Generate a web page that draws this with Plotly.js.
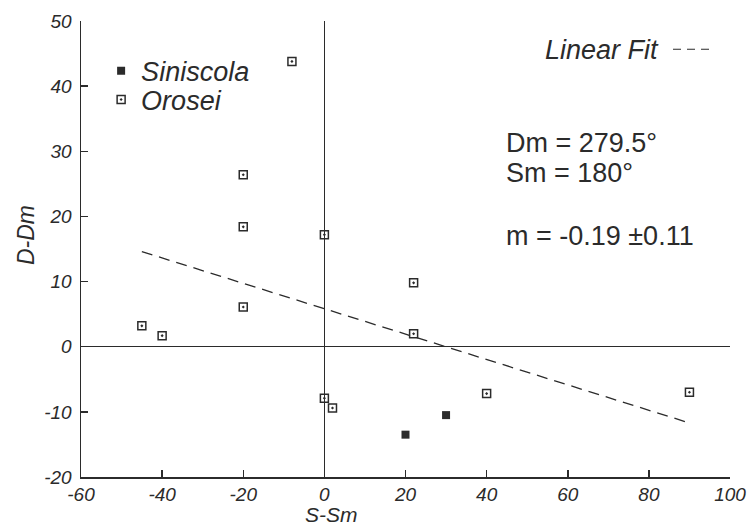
<!DOCTYPE html>
<html>
<head>
<meta charset="utf-8">
<script src="https://cdn.plot.ly/plotly-3.0.1.min.js"></script>
<style>
body{margin:0;padding:0;background:#fff;} #chart{width:752px;height:527px;}
</style>
</head>
<body>
<div id="chart"></div>
<script>
// Data
const siniscolaX = [20, 30];
const siniscolaY = [-13.5, -10.5];
const oroseiX = [-8, -20, -20, 0, -45, -40, -20, 0, 2, 22, 22, 40, 90];
const oroseiY = [43.8, 26.4, 18.4, 17.2, 3.2, 1.7, 6.1, -7.9, -9.4, 9.8, 2.0, -7.2, -7.0];
const fitX = [-45, 90];
const fitY = [14.6, -11.7];
const xTicks = [-60, -40, -20, 0, 20, 40, 60, 80, 100];
const yTicks = [-20, -10, 0, 10, 20, 30, 40, 50];

const ink = '#2b2b2b';
const fam = 'Liberation Sans, Arial, sans-serif';

const traces = [
  {x: fitX, y: fitY, mode: 'lines', line: {color: ink, width: 1.3, dash: '11px,7px'}, showlegend: false, hoverinfo: 'skip'},
  {x: siniscolaX, y: siniscolaY, mode: 'markers', name: 'Siniscola', legend: 'legend',
   marker: {symbol: 'square', size: 8, color: ink, line: {width: 0}}},
  {x: oroseiX, y: oroseiY, mode: 'markers', name: 'Orosei', legend: 'legend2',
   marker: {symbol: 'square-open-dot', size: 8, color: ink, line: {width: 1.5, color: ink}}}
];

const axisCommon = {
  showgrid: false, showline: true, linecolor: ink, linewidth: 1.5,
  zeroline: true, zerolinecolor: ink, zerolinewidth: 1.5,
  ticks: 'inside', ticklen: 7, tickwidth: 1.5, tickcolor: ink,
  tickfont: {family: fam, size: 19, color: ink, style: 'italic'},
  mirror: false
};

const legFont = {family: fam, size: 27, color: ink, style: 'italic'};
const layout = {
  width: 752, height: 527,
  margin: {l: 81, r: 22, t: 21, b: 50},
  paper_bgcolor: '#fff', plot_bgcolor: '#fff',
  showlegend: true,
  legend: {x: 0.031, y: 0.890, xanchor: 'left', yanchor: 'middle', bgcolor: 'rgba(0,0,0,0)', font: legFont},
  legend2: {x: 0.031, y: 0.827, xanchor: 'left', yanchor: 'middle', bgcolor: 'rgba(0,0,0,0)', font: legFont},
  xaxis: Object.assign({}, axisCommon, {range: [-60, 100], tickvals: xTicks,
     ticktext: xTicks.map(String)}),
  yaxis: Object.assign({}, axisCommon, {range: [-20, 50], tickvals: yTicks,
     ticktext: yTicks.map(String), ticklabelstandoff: 4}),
  annotations: [
    {xref: 'paper', yref: 'paper', x: 0.3867, y: -0.0833, xanchor: 'center', yanchor: 'middle', showarrow: false,
     text: '<i>S-Sm</i>', font: {family: fam, size: 21, color: ink}},
    {xref: 'paper', yref: 'paper', x: -0.0847, y: 0.5307, xanchor: 'center', yanchor: 'middle', showarrow: false,
     textangle: -90, text: '<i>D-Dm</i>', font: {family: fam, size: 23, color: ink}},
    {xref: 'paper', yref: 'paper', x: 0.7119, y: 0.9364, xanchor: 'left', yanchor: 'middle', showarrow: false,
     text: '<i>Linear Fit</i>', font: {family: fam, size: 27, color: ink}},
    {xref: 'paper', yref: 'paper', x: 0.6518, y: 0.7325, xanchor: 'left', yanchor: 'middle', showarrow: false,
     text: 'Dm = 279.5°', font: {family: fam, size: 27, color: ink}},
    {xref: 'paper', yref: 'paper', x: 0.6518, y: 0.6667, xanchor: 'left', yanchor: 'middle', showarrow: false,
     text: 'Sm = 180°', font: {family: fam, size: 27, color: ink}},
    {xref: 'paper', yref: 'paper', x: 0.6518, y: 0.5285, xanchor: 'left', yanchor: 'middle', showarrow: false,
     text: 'm = -0.19 ±0.11', font: {family: fam, size: 27, color: ink}}
  ],
  shapes: [
    {type: 'line', xref: 'paper', yref: 'paper', x0: 0.9122, x1: 0.9738, y0: 0.938, y1: 0.938,
     line: {color: ink, width: 1.2, dash: '8px,6px'}}
  ]
};

Plotly.newPlot('chart', traces, layout, {displayModeBar: false, staticPlot: true});
</script>
</body>
</html>
